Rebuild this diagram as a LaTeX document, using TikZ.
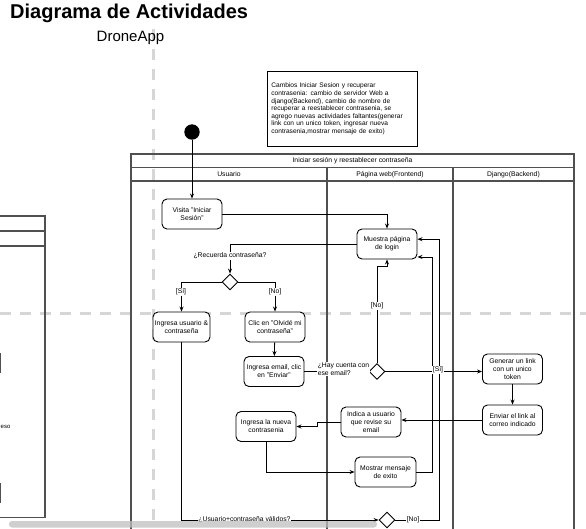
\documentclass[tikz,border=0pt]{standalone}
\usepackage{fontspec}
\setmainfont{Liberation Sans}
\usetikzlibrary{shapes.geometric,arrows.meta}
\definecolor{lanec}{HTML}{505050}
\definecolor{guide}{HTML}{D6D6D6}
\newcommand\myfs{\fontsize{6.8}{8}\selectfont}
\tikzset{
  act/.style={rectangle, draw=black, fill=white, rounded corners=5pt, minimum width=60pt, minimum height=30pt, align=center, inner sep=1pt, line width=0.9pt, font=\myfs},
  dec/.style={diamond, draw=black, fill=white, minimum width=16pt, minimum height=16pt, inner sep=0pt, line width=0.9pt},
  lbl/.style={fill=white, inner sep=0.8pt, font=\myfs, align=left},
  flow/.style={draw=black, line width=0.8pt, -{Stealth[length=5pt,width=4pt]}},
  plain/.style={draw=black, line width=0.8pt},
  lane/.style={draw=lanec, line width=1.1pt},
  guideline/.style={draw=guide, line width=3pt, dash pattern=on 11pt off 9pt}
}
\begin{document}
\begin{tikzpicture}[x=1pt,y=-1pt]
\useasboundingbox (0,0) rectangle (586,528);
\fill[white] (0,0) rectangle (586,528);
\clip (0,0) rectangle (586,528);

% guide lines
\draw[guideline] (153,29) -- (153,528);
\draw[guideline] (0,313) -- (586,313);

% title
\node[anchor=base west, inner sep=0pt, font=\fontsize{20}{24}\selectfont\bfseries] (title) at (10,18) {Diagrama de Actividades};
\node[inner sep=0pt, font=\fontsize{15}{18}\selectfont] (app) at (130.5,38) {DroneApp};

% note
\node[draw=black, line width=0.8pt, fill=white, anchor=north west, text width=142pt, minimum height=75pt, inner sep=4pt, align=left, font=\fontsize{6.6}{7.6}\selectfont] (note) at (267,71)
{Cambios Iniciar Sesion y recuperar\\
contrasenia: cambio de servidor Web a\\
django(Backend), cambio de nombre de\\
recuperar a reestablecer contrasenia, se\\
agrego nuevas actividades faltantes(generar\\
link con un unico token, ingresar nueva\\
contrasenia,mostrar mensaje de exito)};

% left cut-off container
\draw[lane] (-5,216) rectangle (45,517.5);
\draw[lane] (-5,231) -- (45,231);
\draw[lane] (-5,246) -- (45,246);
\draw[lane] (0.5,353) -- (0.5,373);
\draw[lane] (0.5,483) -- (0.5,503);
\node[anchor=west, inner sep=0pt, font=\fontsize{6}{7}\selectfont] (frag) at (0.5,427) {eso};

% swimlanes
\draw[lane] (131,535) -- (131,154) -- (574,154) -- (574,535);
\draw[lane] (131,167.5) -- (574,167.5);
\draw[lane] (131,181) -- (574,181);
\draw[lane] (327,167.5) -- (327,535);
\draw[lane] (453,167.5) -- (453,535);
\node[font=\myfs, inner sep=0pt] (pool) at (352.5,160.5) {Iniciar sesión y reestablecer contraseña};
\node[font=\myfs, inner sep=0pt] (h1) at (229,174.5) {Usuario};
\node[font=\myfs, inner sep=0pt] (h2) at (390,174.5) {Página web(Frontend)};
\node[font=\myfs, inner sep=0pt] (h3) at (513.5,174.5) {Django(Backend)};

% start
\node[circle, fill=black, minimum size=15.4pt, inner sep=0pt] (start) at (192,132) {};

% activities
\node[act] (visita) at (192,214) {Visita "Iniciar\\Sesión"};
\node[act] (muestra) at (387,244) {Muestra página\\de login};
\node[dec] (d1) at (230,282) {};
\node[act, minimum width=57pt] (user) at (181.5,327) {Ingresa usuario \&\\contraseña};
\node[act] (olvide) at (275,327) {Clic en "Olvidé mi\\contraseña"};
\node[act] (email) at (274,371.5) {Ingresa email, clic\\en "Enviar"};
\node[dec] (d2) at (377,371.5) {};
\node[act] (gen) at (512.5,369) {Generar un link\\con un unico\\token};
\node[act] (env) at (512.5,420) {Enviar el link al\\correo indicado};
\node[act] (ind) at (371,422) {Indica a usuario\\que revise su\\email};
\node[act] (nueva) at (266,426.5) {Ingresa la nueva\\contrasenia};
\node[act, minimum width=61pt] (exito) at (385.5,472) {Mostrar mensaje\\de exito};
\node[dec] (d3) at (387,520) {};

% connectors
\draw[flow] (start) -- (visita);
\draw[flow] (visita.east) -| (muestra.north);
\draw[flow] (muestra.west) -| (d1.north);
\draw[flow] (d1.west) -| (user.north);
\draw[flow] (d1.east) -| (olvide.north);
\draw[flow] (olvide) -- (email);
\draw[plain] (email.east) -- (d2.west);
\draw[flow] (d2.north) -- ++(0,-96.5) -| (muestra.south);
\draw[flow] (d2.east) -- (gen.west |- d2.east);
\draw[flow] (gen) -- (env);
\draw[flow] (env.west) -- (ind.east |- env.west);
\draw[flow] (ind.west) -- ++(-23,0) |- (nueva.east);
\draw[flow] (nueva.south) |- (exito.west);
\draw[flow] (exito.east) -- ++(15.5,0) |- (muestra.-23);
\draw[flow] (user.south) |- (d3.west);
\draw[flow] (d3.east) -- ++(44,0) |- (muestra.9.5);

% labels
\node[lbl] (lrec) at (230,256) {¿Recuerda contraseña?};
\node[lbl] (lsi1) at (181,292) {[Sí]};
\node[lbl] (lno1) at (275,292) {[No]};
\node[lbl] (lhay) at (343.5,369) {¿Hay cuenta con\\ese email?};
\node[lbl] (lno2) at (377,306) {[No]};
\node[lbl] (lsi2) at (438,370) {[Sí]};
\node[lbl] (lval) at (244.5,520) {¿Usuario+contraseña válidos?};
\node[lbl] (lno3) at (413,520) {[No]};

% scroll bar overlay
\fill[black!25, opacity=0.75, rounded corners=3pt] (9,521) rectangle (377,527.5);
\end{tikzpicture}
\end{document}
